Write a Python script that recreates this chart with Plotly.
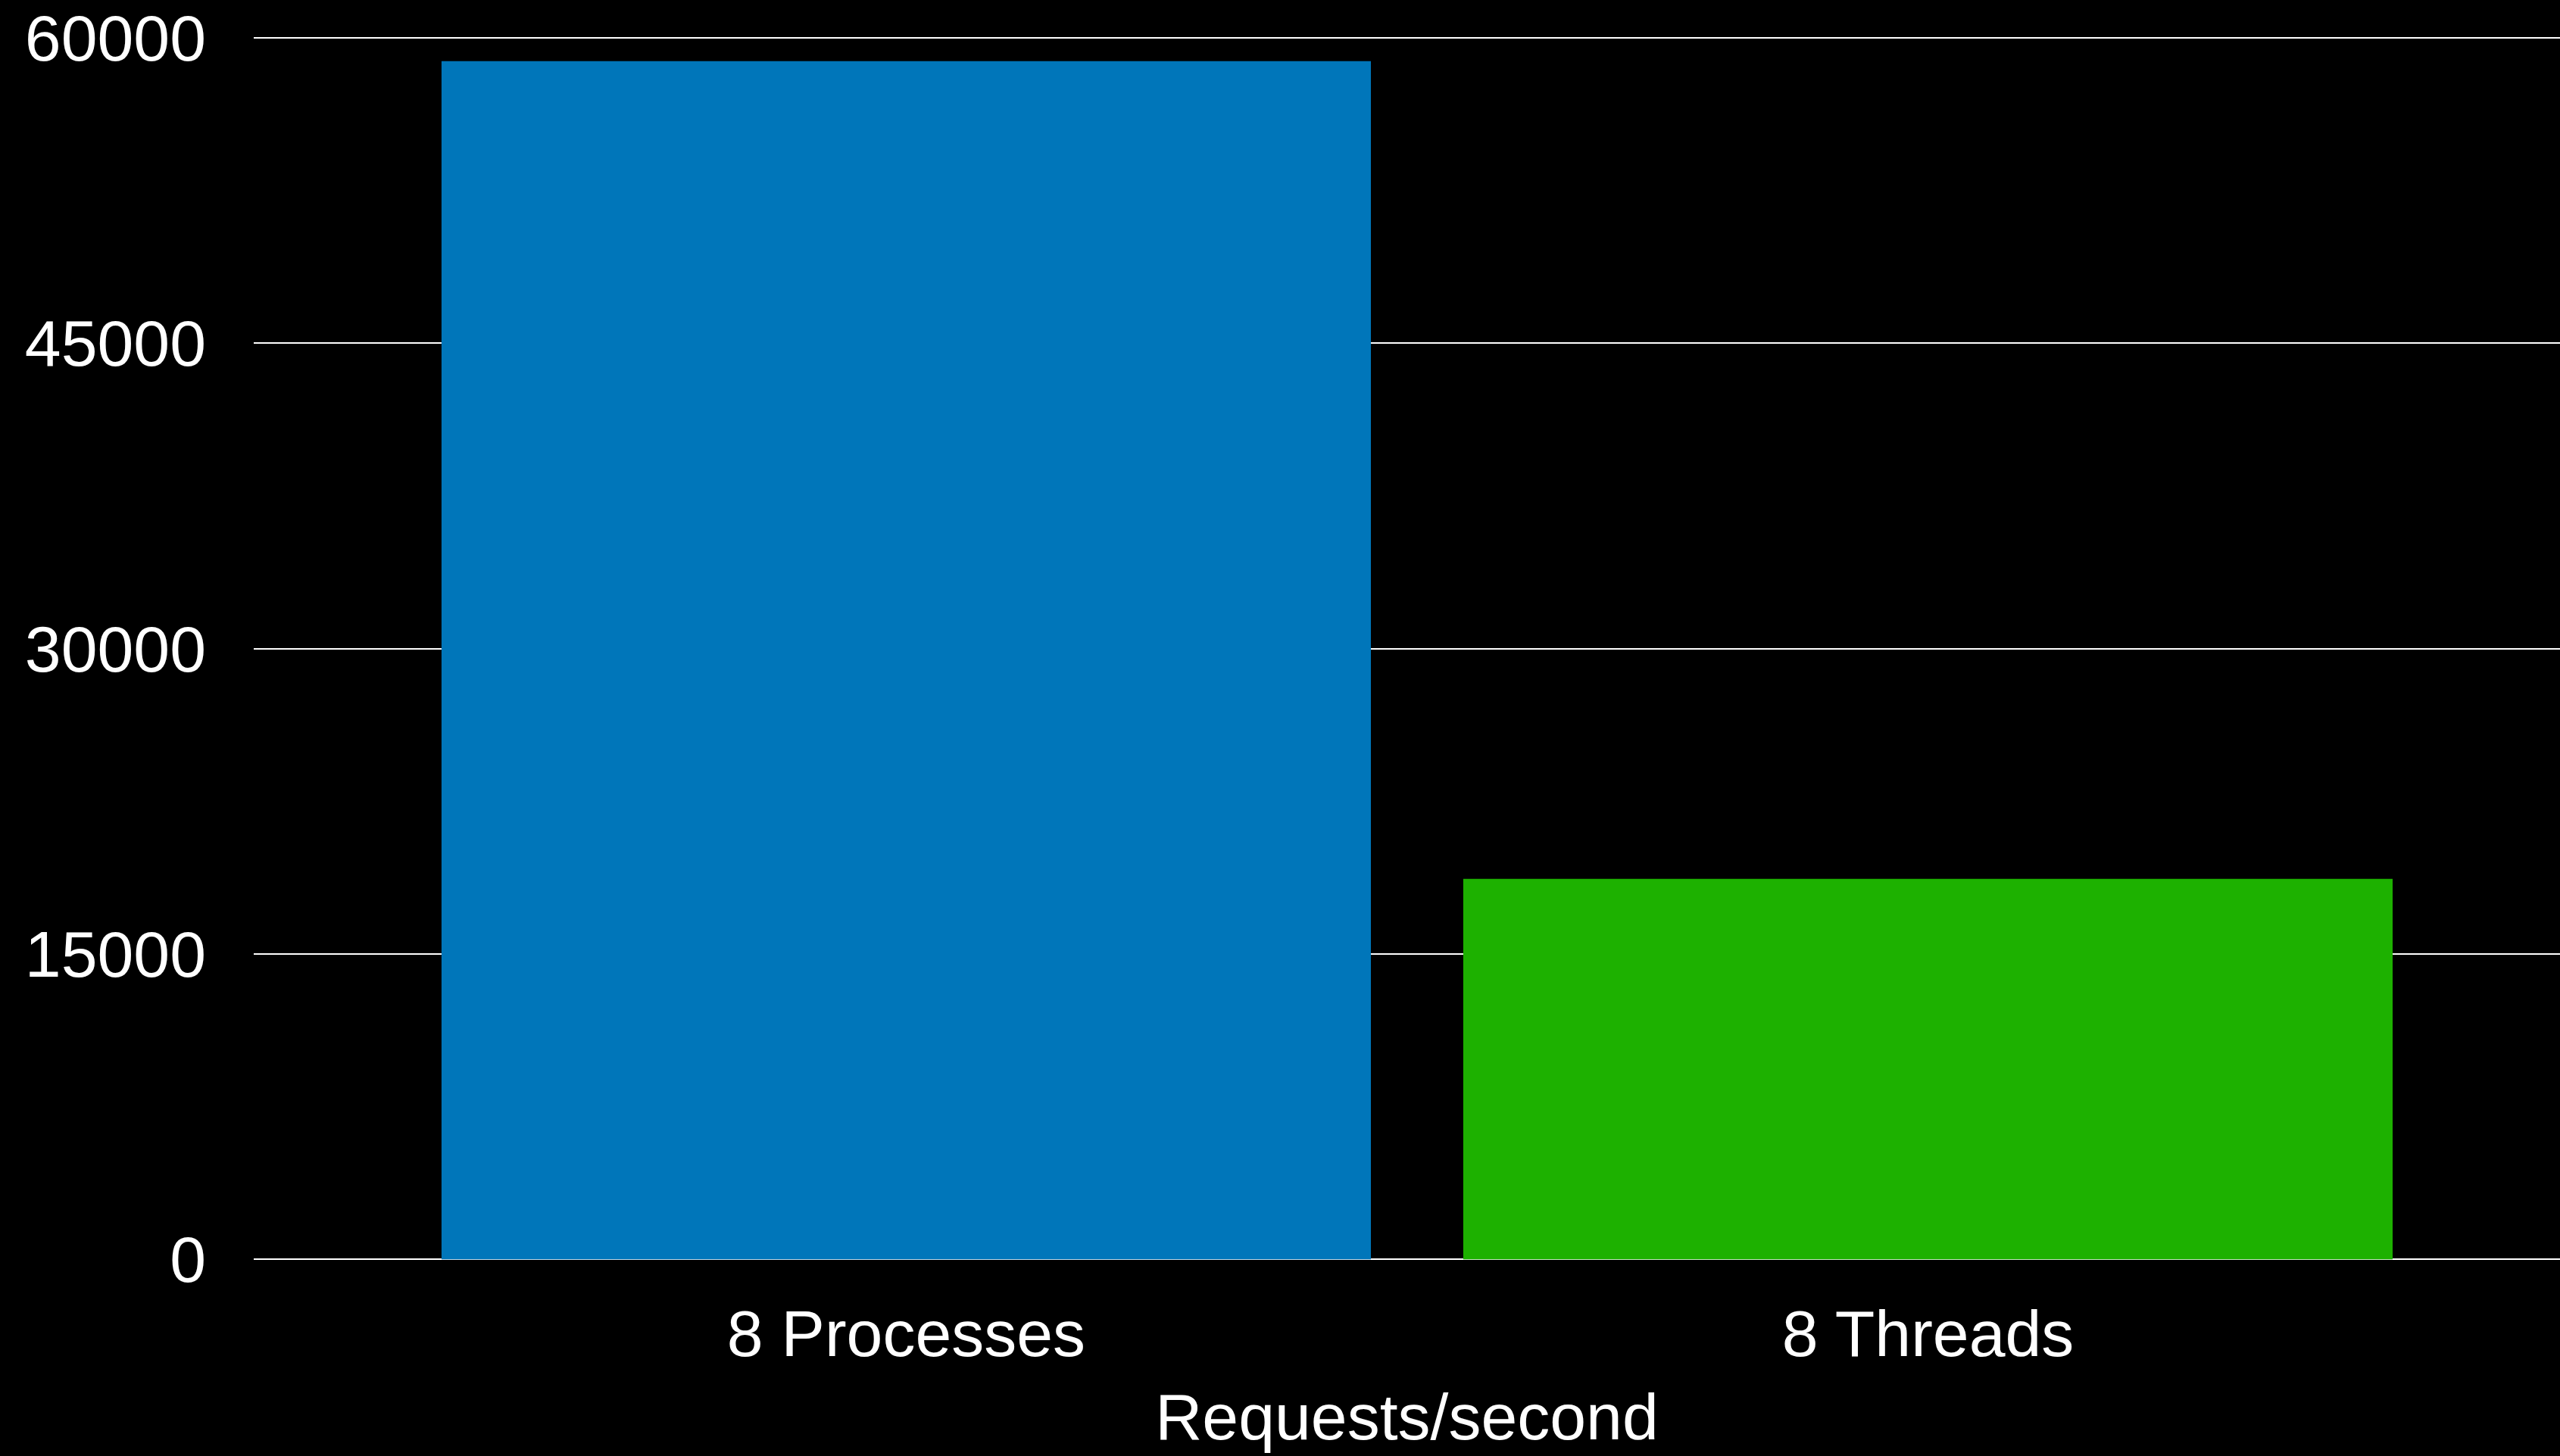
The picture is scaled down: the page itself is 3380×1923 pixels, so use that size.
import plotly.graph_objects as go

# Throughput benchmark: worker processes vs threads
categories = ["8 Processes", "8 Threads"]
requests_per_second = [58850, 18690]
bar_colors = ["#0076BA", "#1DB100"]
y_tick_values = [0, 15000, 30000, 45000, 60000]
y_tick_labels = ["0", "15000", "30000", "45000", "60000"]

FONT = "Liberation Sans, Arial, Helvetica, sans-serif"
FONT_SIZE = 86

fig = go.Figure(
    go.Bar(
        x=categories,
        y=requests_per_second,
        marker=dict(color=bar_colors, line=dict(width=0)),
        hoverinfo="x+y",
    )
)

fig.update_layout(
    width=3380,
    height=1923,
    margin=dict(l=335, r=0, t=39, b=249),
    paper_bgcolor="black",
    plot_bgcolor="black",
    bargap=0.0904,
    showlegend=False,
    font=dict(family=FONT, size=FONT_SIZE, color="white"),
)

fig.update_xaxes(
    type="category",
    range=[-0.6386, 1.6186],
    showgrid=False,
    showline=False,
    zeroline=False,
    ticks="",
    ticklabelstandoff=30,
    tickfont=dict(family=FONT, size=FONT_SIZE, color="white"),
    title=dict(
        text="Requests/second",
        font=dict(family=FONT, size=FONT_SIZE, color="white"),
        standoff=32,
    ),
)

fig.update_yaxes(
    range=[-400, 60400],
    tickvals=y_tick_values,
    ticktext=y_tick_labels,
    showgrid=True,
    gridcolor="white",
    gridwidth=2,
    zeroline=True,
    zerolinecolor="white",
    zerolinewidth=2,
    showline=False,
    ticks="",
    ticklabelstandoff=62,
    tickfont=dict(family=FONT, size=FONT_SIZE, color="white"),
)

fig.write_html("out.html")
